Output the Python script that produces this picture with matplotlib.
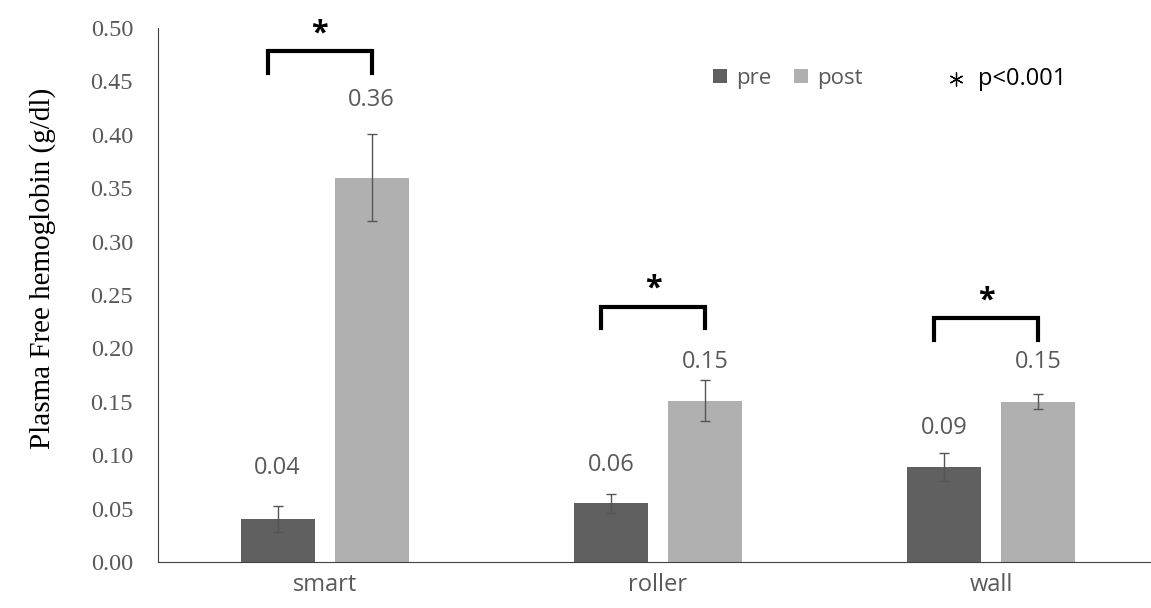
import matplotlib
matplotlib.use("Agg")
import numpy as np
from matplotlib import pyplot as plt

groups = ["smart", "roller", "wall"]
pre = [0.040, 0.055, 0.089]
post = [0.360, 0.151, 0.150]
pre_err = [0.012, 0.009, 0.013]
post_err = [0.041, 0.019, 0.007]
pre_labels = ["0.04", "0.06", "0.09"]
post_labels = ["0.36", "0.15", "0.15"]
yticks = [0.00, 0.05, 0.10, 0.15, 0.20, 0.25, 0.30, 0.35, 0.40, 0.45, 0.50]

# placement of labels / brackets (axis units)
pre_label_y = [0.088, 0.091, 0.125]
post_label_y = [0.433, 0.187, 0.187]
bracket_top = [0.478, 0.239, 0.228]

pre_color = "#606060"
post_color = "#b0b0b0"
sans = ["Open Sans", "DejaVu Sans"]
serif = ["Liberation Serif", "DejaVu Serif"]

fig = plt.figure(figsize=(11.51, 6.08), dpi=100)
ax = fig.add_axes([158 / 1151, 46 / 608, 1000 / 1151, 534 / 608])

x = np.arange(len(groups))
w = 0.222
off = 0.141
ax.bar(x - off, pre, w, color=pre_color, label="pre")
ax.bar(x + off, post, w, color=post_color, label="post")
ax.errorbar(x - off, pre, yerr=pre_err, fmt="none", ecolor="#555555",
            elinewidth=1, capsize=3.5, capthick=1)
ax.errorbar(x + off, post, yerr=post_err, fmt="none", ecolor="#555555",
            elinewidth=1, capsize=3.5, capthick=1)

for i in range(len(groups)):
    ax.text(x[i] - off, pre_label_y[i], pre_labels[i], ha="center",
            va="center", fontsize=17, color="#595959", family=sans)
    ax.text(x[i] + off, post_label_y[i], post_labels[i], ha="center",
            va="center", fontsize=17, color="#595959", family=sans)
    # significance bracket
    xl = x[i] - off - 0.03
    xr = x[i] + off
    top = bracket_top[i]
    ax.plot([xl, xl, xr, xr], [top - 0.02, top, top, top - 0.02],
            color="black", lw=3, solid_joinstyle="miter", clip_on=False)
    ax.text((xl + xr) / 2, top + 0.003, "*", ha="center", va="bottom",
            fontsize=22, fontweight="bold", color="black", family=sans)

ax.set_xlim(-0.5, 2.5)
ax.set_ylim(0, 0.5)
ax.set_yticks(yticks)
ax.set_yticklabels(["%.2f" % t for t in yticks], family=serif, fontsize=17.5,
                   color="#595959")
ax.set_xticks(x)
ax.set_xticklabels(groups, family=sans, fontsize=17, color="#595959")
ax.tick_params(axis="both", length=0)
ax.tick_params(axis="x", pad=8)
ax.tick_params(axis="y", pad=18)
for s in ["top", "right"]:
    ax.spines[s].set_visible(False)
ax.spines["left"].set_color("#404040")
ax.spines["bottom"].set_color("#404040")
ax.set_ylabel("Plasma Free hemoglobin (g/dl)", family=serif, fontsize=21,
              color="black")
ax.yaxis.set_label_coords(-0.102, 0.55)

ax.legend(loc="center left", bbox_to_anchor=(0.535, 0.905), ncol=2,
          frameon=False, prop={"family": "Open Sans", "size": 16},
          labelcolor="#595959", handlelength=0.65, handleheight=0.6,
          handletextpad=0.4, columnspacing=1.0)
ax.plot([0.798], [0.905], transform=ax.transAxes, marker=(6, 2, 0),
        markersize=10, markeredgewidth=0.9, color="black", clip_on=False)
ax.text(0.82, 0.905, "p<0.001", transform=ax.transAxes, fontsize=17,
        family=sans, color="black", va="center")

fig.savefig("out.png", dpi=100)
